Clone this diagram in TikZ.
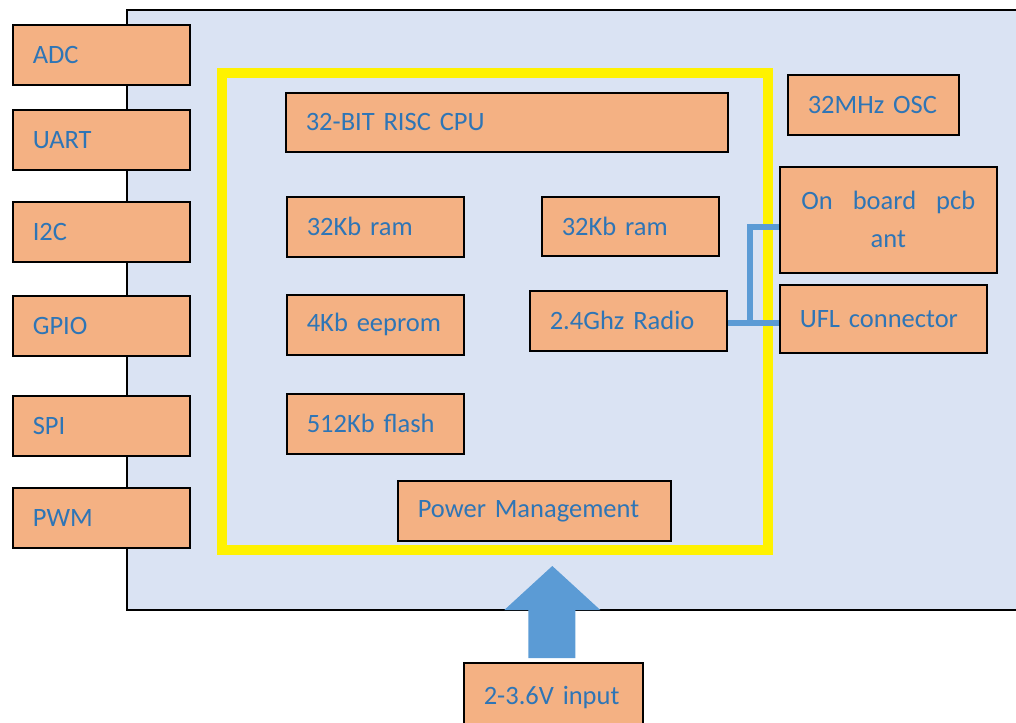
\documentclass[tikz,border=0pt]{standalone}
\usepackage{fontspec}
\setmainfont{Carlito}
\usetikzlibrary{calc}
\definecolor{boxfill}{HTML}{F4B183}
\definecolor{boardfill}{HTML}{DAE3F3}
\definecolor{txtblue}{HTML}{2E75B6}
\definecolor{linkblue}{HTML}{5B9BD5}
\tikzset{
  blk/.style={draw=black, line width=1.6pt, fill=boxfill, text=txtblue,
    font=\fontsize{26.5}{38}\selectfont, anchor=north west, inner xsep=20pt,
    inner ysep=0pt, align=left},
  link/.style={draw=linkblue, line width=6pt}
}
\begin{document}
\begin{tikzpicture}[x=1pt,y=-1pt]
  \useasboundingbox (0,0) rectangle (1016,722);
  % board
  \fill[boardfill] (127,10) rectangle (1020,610);
  \draw[line width=1.6pt] (1020,10) -- (127,10) -- (127,610) -- (1020,610);
  % peripherals
  \node[blk, text width=137pt, minimum height=60pt] (adc)  at (12,24)  {ADC};
  \node[blk, text width=137pt, minimum height=60pt] (uart) at (12,109) {UART};
  \node[blk, text width=137pt, minimum height=60pt] (i2c)  at (12,201) {I2C};
  \node[blk, text width=137pt, minimum height=60pt] (gpio) at (12,295) {GPIO};
  \node[blk, text width=137pt, minimum height=60pt] (spi)  at (12,395) {SPI};
  \node[blk, text width=137pt, minimum height=60pt] (pwm)  at (12,487) {PWM};
  % core
  \draw[yellow, line width=10pt] (222,73) rectangle (768,550);
  \node[blk, text width=402pt, minimum height=59pt] (cpu)    at (285,92)  {32-BIT RISC CPU};
  \node[blk, text width=137pt, minimum height=60pt] (ramA)   at (286,196) {32Kb ram};
  \node[blk, text width=137pt, minimum height=59pt] (ramB)   at (541,196) {32Kb ram};
  \node[blk, text width=137pt, minimum height=60pt] (eeprom) at (286,294) {4Kb eeprom};
  \node[blk, text width=157pt, minimum height=60pt] (radio)  at (529,290) {2.4Ghz Radio};
  \node[blk, text width=137pt, minimum height=60pt] (flash)  at (286,393) {512Kb flash};
  \node[blk, text width=233pt, minimum height=60pt] (power)  at (397,480) {Power Management};
  % right side
  \node[blk, text width=131pt, minimum height=60pt] (osc) at (787,74) {32MHz OSC};
  \node[blk, text width=177pt, minimum height=106pt, align=center] (ant) at (779,166)
    {On\hspace{20pt}board\hspace{20pt}pcb\\ant};
  \node[blk, text width=167pt, minimum height=68pt] (ufl) at (779,284) {UFL connector};
  \coordinate (jn) at (750,323);
  \draw[link] (radio.east |- jn) -- (ufl.west |- jn);
  \draw[link] (jn) |- ([yshift=-7pt]ant.west);
  % supply
  \node[blk, text width=139pt, minimum height=70pt] (inp) at (463,662) {2-3.6V input};
  \fill[linkblue] ($(inp.north)+(-25,-4)$) -- ++(0,-48) -- ++(-24,0)
    -- ($(inp.north)+(-1,-96)$) -- ($(inp.north)+(47,-52)$) -- ++(-25,0)
    -- ++(0,48) -- cycle;
\end{tikzpicture}
\end{document}
